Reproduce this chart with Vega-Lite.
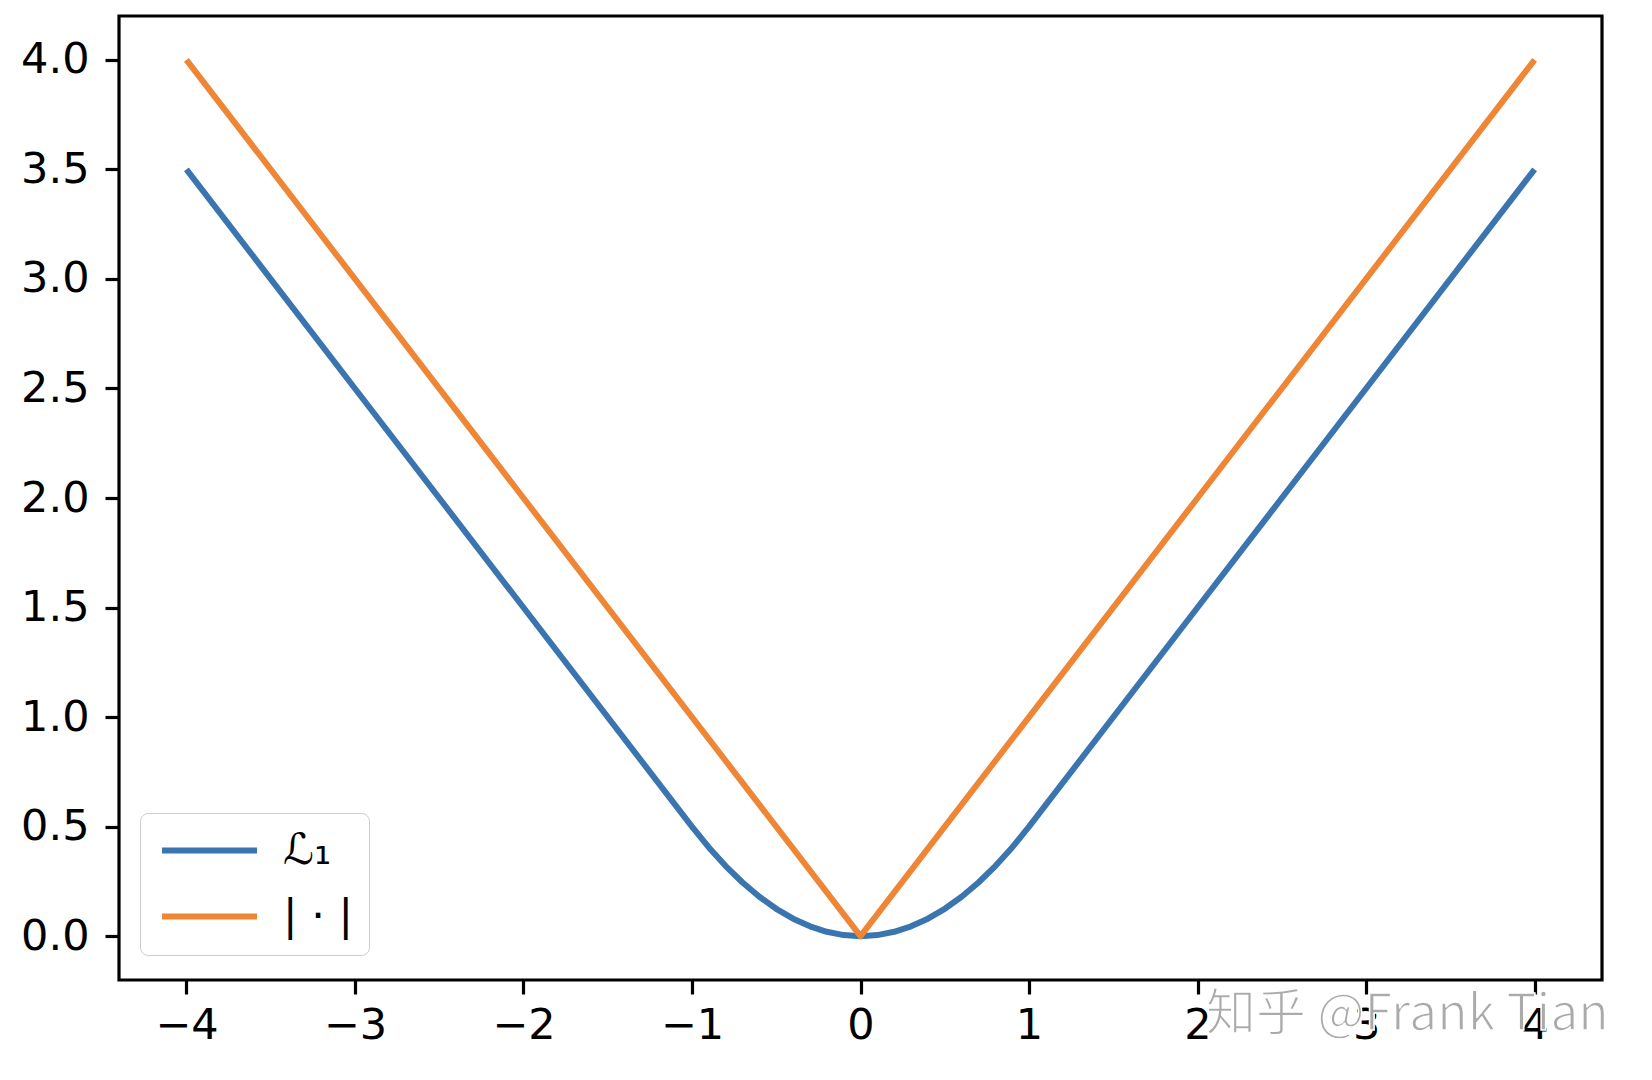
{
  "$schema": "https://vega.github.io/schema/vega-lite/v6.json",
  "width": 1483,
  "height": 964,
  "autosize": "none",
  "padding": {"left": 119, "top": 16, "right": 50, "bottom": 100},
  "background": "white",
  "config": {
    "font": "DejaVu Sans",
    "view": {"stroke": "black", "strokeWidth": 3.2},
    "axis": {
      "domain": false,
      "grid": false,
      "ticks": true,
      "tickColor": "black",
      "tickSize": 14,
      "tickWidth": 3.2,
      "labelColor": "black",
      "labelFont": "DejaVu Sans",
      "labelFontSize": 43,
      "title": null
    }
  },
  "datasets": {
    "curves": [
      {"x": -4, "y": 3.5, "series": "ℒ₁"},
      {"x": -3, "y": 2.5, "series": "ℒ₁"},
      {"x": -2, "y": 1.5, "series": "ℒ₁"},
      {"x": -1, "y": 0.5, "series": "ℒ₁"},
      {"x": -0.9, "y": 0.405, "series": "ℒ₁"},
      {"x": -0.8, "y": 0.32, "series": "ℒ₁"},
      {"x": -0.7, "y": 0.245, "series": "ℒ₁"},
      {"x": -0.6, "y": 0.18, "series": "ℒ₁"},
      {"x": -0.5, "y": 0.125, "series": "ℒ₁"},
      {"x": -0.4, "y": 0.08, "series": "ℒ₁"},
      {"x": -0.3, "y": 0.045, "series": "ℒ₁"},
      {"x": -0.2, "y": 0.02, "series": "ℒ₁"},
      {"x": -0.1, "y": 0.005, "series": "ℒ₁"},
      {"x": 0, "y": 0, "series": "ℒ₁"},
      {"x": 0.1, "y": 0.005, "series": "ℒ₁"},
      {"x": 0.2, "y": 0.02, "series": "ℒ₁"},
      {"x": 0.3, "y": 0.045, "series": "ℒ₁"},
      {"x": 0.4, "y": 0.08, "series": "ℒ₁"},
      {"x": 0.5, "y": 0.125, "series": "ℒ₁"},
      {"x": 0.6, "y": 0.18, "series": "ℒ₁"},
      {"x": 0.7, "y": 0.245, "series": "ℒ₁"},
      {"x": 0.8, "y": 0.32, "series": "ℒ₁"},
      {"x": 0.9, "y": 0.405, "series": "ℒ₁"},
      {"x": 1, "y": 0.5, "series": "ℒ₁"},
      {"x": 2, "y": 1.5, "series": "ℒ₁"},
      {"x": 3, "y": 2.5, "series": "ℒ₁"},
      {"x": 4, "y": 3.5, "series": "ℒ₁"},
      {"x": -4, "y": 4, "series": "| · |"},
      {"x": -2, "y": 2, "series": "| · |"},
      {"x": 0, "y": 0, "series": "| · |"},
      {"x": 2, "y": 2, "series": "| · |"},
      {"x": 4, "y": 4, "series": "| · |"}
    ],
    "watermark": [
      {"x": 2.05, "y": -0.43, "text": "知乎 @Frank Tian"}
    ]
  },
  "layer": [
    {
      "data": {"name": "curves"},
      "mark": {"type": "line", "strokeWidth": 6, "strokeCap": "butt", "strokeJoin": "round"},
      "encoding": {
        "x": {
          "field": "x",
          "type": "quantitative",
          "scale": {"domain": [-4.4, 4.4], "nice": false, "zero": false},
          "axis": {
            "values": [-4, -3, -2, -1, 0, 1, 2, 3, 4],
            "format": "d",
            "labelExpr": "replace(datum.label, '-', '−')",
            "labelPadding": 10
          }
        },
        "y": {
          "field": "y",
          "type": "quantitative",
          "scale": {"domain": [-0.2, 4.2], "nice": false, "zero": false},
          "axis": {
            "values": [0, 0.5, 1, 1.5, 2, 2.5, 3, 3.5, 4],
            "format": ".1f",
            "labelPadding": 16
          }
        },
        "color": {
          "field": "series",
          "type": "nominal",
          "scale": {"domain": ["ℒ₁", "| · |"], "range": ["#3b75af", "#ef8636"]},
          "legend": {
            "title": null,
            "orient": "none",
            "legendX": 21,
            "legendY": 797,
            "symbolType": "M-3,0H3",
            "symbolSize": 1003,
            "symbolOffset": 32,
            "symbolStrokeWidth": 6,
            "labelFontSize": 43,
            "labelFont": "DejaVu Sans",
            "labelColor": "black",
            "labelOffset": 52,
            "rowPadding": 22,
            "padding": 16,
            "strokeColor": "#cccccc",
            "fillColor": "white",
            "cornerRadius": 8
          }
        }
      }
    },
    {
      "data": {"name": "watermark"},
      "mark": {
        "type": "text",
        "align": "left",
        "baseline": "alphabetic",
        "font": "Noto Sans CJK SC",
        "fontSize": 50,
        "color": "#aaaaaa",
        "stroke": "white",
        "strokeWidth": 1.5,
        "clip": false
      },
      "encoding": {
        "x": {"field": "x", "type": "quantitative"},
        "y": {"field": "y", "type": "quantitative"},
        "text": {"field": "text"}
      }
    }
  ]
}
